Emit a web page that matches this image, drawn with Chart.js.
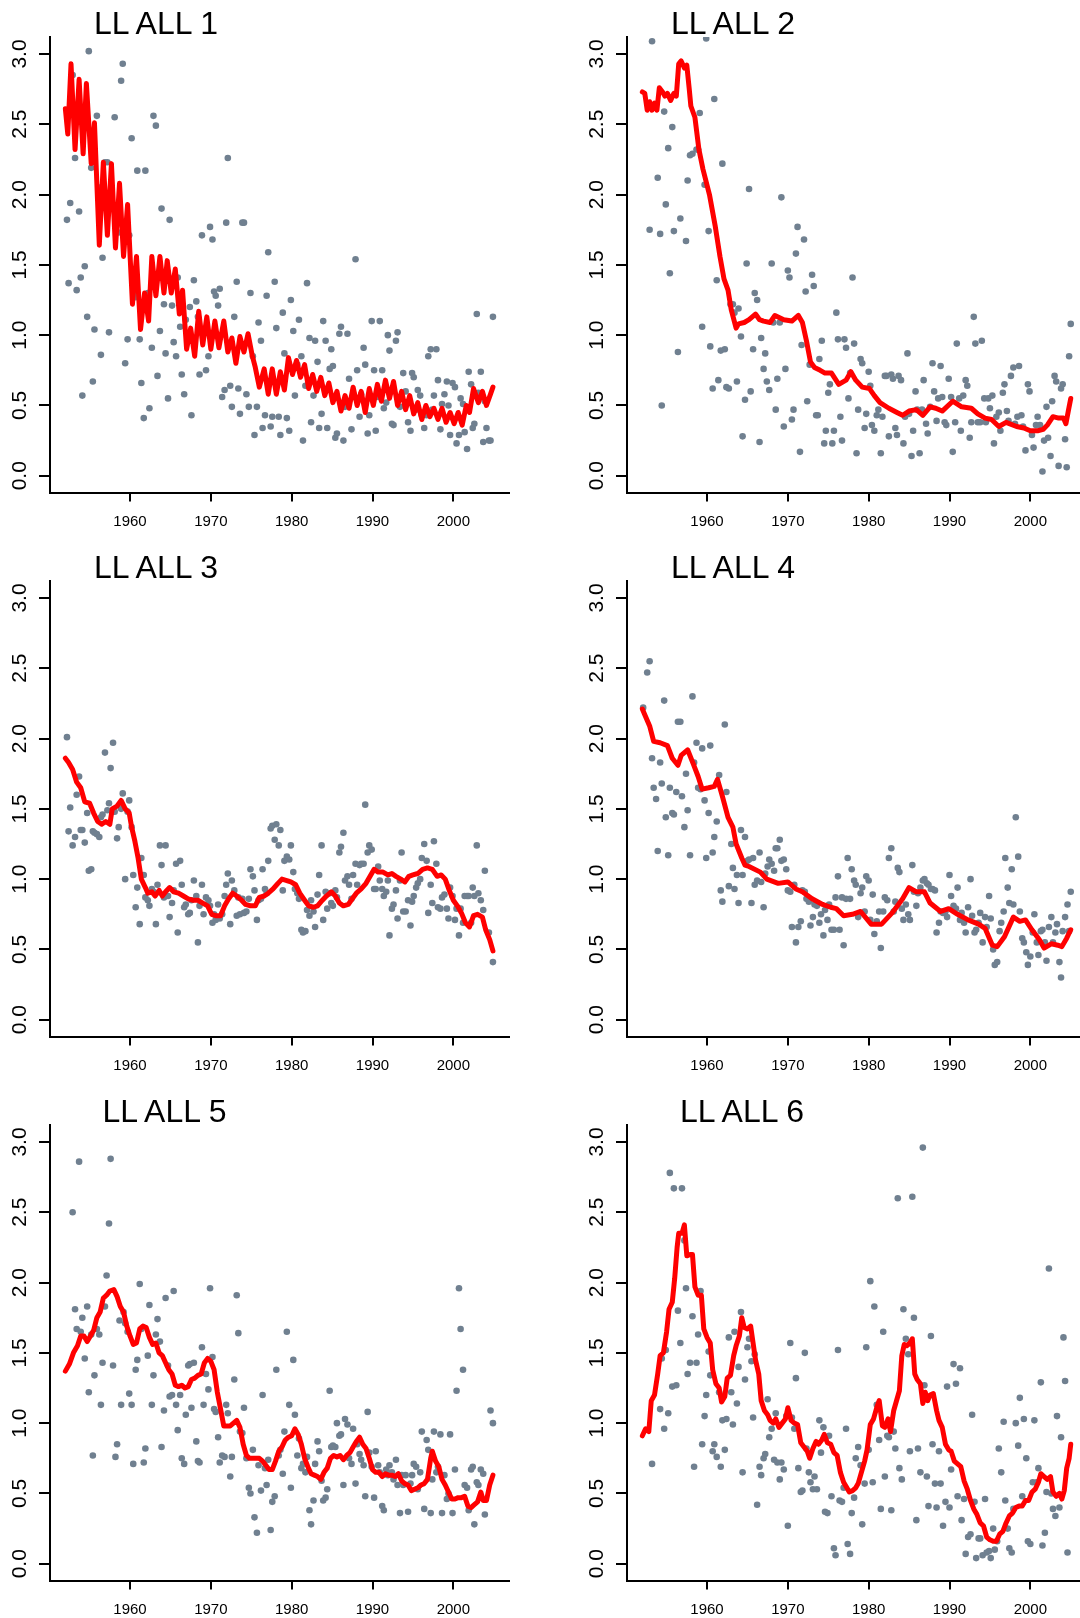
<!DOCTYPE html>
<html>
<head>
<title>LL ALL</title>
<script src="https://cdn.jsdelivr.net/npm/chart.js"></script>
<style>
  html, body { margin: 0; padding: 0; background: #fff; }
  body { width: 1080px; height: 1618px; overflow: hidden; position: relative; font-family: "Liberation Sans", Arial, sans-serif; }
  .panel { position: absolute; width: 540px; height: 545px; }
  .panel canvas { position: absolute; left: 0; top: 0; }
  .title { position: absolute; top: 7px; font-size: 32px; line-height: 32px; color: #000; white-space: nowrap; }
</style>
</head>
<body>
<div id="page"></div>
<script>
// panel titles and axis ticks
const titles = ['LL ALL 1', 'LL ALL 2', 'LL ALL 3', 'LL ALL 4', 'LL ALL 5', 'LL ALL 6'];
const yearTicks = [1960, 1970, 1980, 1990, 2000];
const valueTicks = [0, 0.5, 1, 1.5, 2, 2.5, 3];

// observed points [year, value]
const obs1 = [[1952.2,1.82],[1952.4,1.37],[1952.6,1.94],[1952.9,2.85],[1953.2,2.26],[1953.4,1.32],[1953.7,1.88],[1953.9,1.41],[1954.1,0.57],[1954.4,1.49],[1954.7,1.13],[1954.9,3.02],[1955.2,2.19],[1955.4,0.67],[1955.6,1.04],[1955.9,2.56],[1956.2,2.05],[1956.4,0.86],[1956.6,1.55],[1956.9,2.23],[1957.2,2.23],[1957.4,1.02],[1958.1,2.55],[1958.4,1.88],[1958.6,1.73],[1958.9,2.81],[1959.1,2.93],[1959.4,0.80],[1959.7,0.97],[1959.9,1.71],[1960.2,2.40],[1960.4,1.30],[1960.7,1.27],[1960.9,2.17],[1961.2,0.97],[1961.4,0.66],[1961.7,0.41],[1961.9,2.17],[1962.2,1.30],[1962.4,0.48],[1962.7,0.91],[1962.9,2.56],[1963.2,2.49],[1963.4,0.71],[1963.7,1.03],[1963.9,1.90],[1964.2,1.22],[1964.4,0.87],[1964.7,0.55],[1964.9,1.82],[1965.2,1.21],[1965.4,0.95],[1965.7,0.85],[1965.9,1.41],[1966.2,1.06],[1966.4,0.72],[1966.7,0.58],[1966.9,1.11],[1967.2,1.01],[1967.4,1.20],[1967.6,0.43],[1967.9,1.39],[1968.2,1.24],[1968.4,1.13],[1968.6,0.72],[1968.9,1.71],[1969.1,1.03],[1969.4,0.75],[1969.7,0.85],[1969.9,1.77],[1970.2,1.68],[1970.4,1.31],[1970.6,1.28],[1970.9,1.21],[1971.1,1.33],[1971.4,0.56],[1971.7,0.61],[1971.9,1.80],[1972.1,2.26],[1972.4,0.64],[1972.6,0.49],[1972.9,1.13],[1973.2,1.38],[1973.4,0.62],[1973.6,0.44],[1973.9,1.80],[1974.1,1.80],[1974.4,0.58],[1974.7,0.49],[1974.9,1.30],[1975.2,0.85],[1975.4,0.29],[1975.7,0.49],[1975.9,1.09],[1976.2,0.96],[1976.4,0.34],[1976.7,0.43],[1976.9,1.28],[1977.1,1.59],[1977.4,0.35],[1977.6,0.42],[1977.9,1.38],[1978.1,1.05],[1978.4,0.42],[1978.6,0.29],[1978.9,1.16],[1979.1,0.87],[1979.4,0.41],[1979.7,0.32],[1979.9,1.25],[1980.2,1.03],[1980.4,0.57],[1980.7,0.79],[1980.9,1.11],[1981.2,0.85],[1981.4,0.25],[1981.7,0.64],[1981.9,1.37],[1982.2,0.98],[1982.4,0.38],[1982.7,0.57],[1982.9,0.96],[1983.2,0.81],[1983.4,0.34],[1983.7,0.44],[1983.9,1.10],[1984.2,0.96],[1984.4,0.34],[1984.7,0.76],[1984.9,0.90],[1985.1,0.78],[1985.4,0.27],[1985.6,0.30],[1985.9,1.01],[1986.1,1.06],[1986.4,0.25],[1986.6,0.49],[1986.9,1.01],[1987.1,0.69],[1987.4,0.33],[1987.6,0.56],[1987.9,1.54],[1988.1,0.75],[1988.4,0.42],[1988.6,0.58],[1988.9,0.91],[1989.1,0.79],[1989.4,0.30],[1989.6,0.43],[1989.9,1.10],[1990.2,0.75],[1990.4,0.32],[1990.7,0.56],[1990.9,1.10],[1991.2,0.75],[1991.4,0.48],[1991.7,0.52],[1991.9,1.00],[1992.1,0.89],[1992.4,0.37],[1992.6,0.36],[1992.9,0.96],[1993.1,1.02],[1993.4,0.49],[1993.6,0.55],[1993.8,0.73],[1994.1,0.60],[1994.4,0.38],[1994.7,0.32],[1994.9,0.73],[1995.1,0.70],[1995.4,0.47],[1995.6,0.61],[1995.9,0.57],[1996.1,0.43],[1996.4,0.34],[1996.7,0.43],[1996.9,0.85],[1997.2,0.90],[1997.4,0.47],[1997.6,0.57],[1997.9,0.90],[1998.1,0.68],[1998.4,0.33],[1998.6,0.51],[1998.9,0.58],[1999.2,0.67],[1999.4,0.50],[1999.6,0.29],[1999.9,0.66],[2000.2,0.63],[2000.4,0.23],[2000.7,0.29],[2000.9,0.55],[2001.2,0.51],[2001.4,0.31],[2001.7,0.19],[2001.9,0.74],[2002.2,0.65],[2002.4,0.34],[2002.6,0.37],[2002.9,1.15],[2003.1,0.59],[2003.4,0.74],[2003.7,0.24],[2003.9,0.53],[2004.1,0.34],[2004.4,0.25],[2004.6,0.25],[2004.9,1.13]];

const obs2 = [[1952.9,1.75],[1953.2,3.09],[1953.9,2.12],[1954.2,1.72],[1954.4,0.50],[1954.7,2.59],[1954.9,1.93],[1955.2,2.33],[1955.4,1.44],[1955.7,2.48],[1955.9,1.74],[1956.4,0.88],[1956.7,1.83],[1957.4,1.67],[1957.6,2.10],[1957.9,2.28],[1958.2,2.29],[1958.7,2.32],[1958.9,2.32],[1959.1,2.58],[1959.4,1.06],[1959.7,2.07],[1959.9,3.11],[1960.2,1.74],[1960.4,0.92],[1960.7,0.62],[1960.9,2.68],[1961.2,1.39],[1961.4,0.68],[1961.7,0.89],[1961.9,2.22],[1962.2,0.90],[1962.4,0.63],[1962.7,0.62],[1962.9,1.22],[1963.2,1.22],[1963.4,1.16],[1963.7,0.67],[1963.9,1.19],[1964.2,0.99],[1964.4,0.28],[1964.7,0.54],[1964.9,1.51],[1965.2,2.04],[1965.4,0.60],[1965.7,0.90],[1965.9,1.30],[1966.2,1.25],[1966.5,0.24],[1966.7,0.98],[1967.0,0.76],[1967.2,0.87],[1967.4,0.67],[1967.7,0.61],[1968.0,1.51],[1968.2,1.09],[1968.5,0.47],[1968.7,0.69],[1969.0,1.09],[1969.2,1.98],[1969.5,0.35],[1969.7,0.76],[1970.0,1.46],[1970.2,1.41],[1970.5,0.40],[1970.7,0.47],[1971.0,1.58],[1971.2,1.77],[1971.5,0.17],[1971.7,0.93],[1972.0,1.68],[1972.2,1.31],[1972.4,0.53],[1972.7,0.79],[1973.0,1.43],[1973.2,1.35],[1973.5,0.43],[1973.7,0.43],[1973.9,0.83],[1974.2,0.96],[1974.5,0.23],[1974.7,0.32],[1975.0,0.59],[1975.2,0.65],[1975.5,0.23],[1975.7,0.32],[1976.0,1.16],[1976.2,0.97],[1976.5,0.42],[1976.7,0.25],[1977.0,0.97],[1977.2,0.91],[1977.5,0.55],[1977.7,0.73],[1978.0,1.41],[1978.2,0.94],[1978.5,0.16],[1978.7,0.47],[1979.0,0.83],[1979.2,0.80],[1979.5,0.34],[1979.7,0.44],[1980.0,0.74],[1980.2,0.64],[1980.4,0.36],[1980.7,0.32],[1981.0,0.43],[1981.2,0.47],[1981.5,0.16],[1981.7,0.42],[1982.0,0.71],[1982.2,0.71],[1982.5,0.28],[1982.8,0.72],[1983.0,0.69],[1983.3,0.34],[1983.5,0.29],[1983.7,0.71],[1984.0,0.68],[1984.3,0.23],[1984.5,0.42],[1984.8,0.87],[1985.0,0.44],[1985.3,0.14],[1985.5,0.32],[1985.8,0.60],[1986.0,0.47],[1986.3,0.16],[1986.6,0.47],[1986.8,0.68],[1987.1,0.37],[1987.3,0.30],[1987.6,0.49],[1987.9,0.80],[1988.1,0.60],[1988.4,0.39],[1988.6,0.55],[1988.9,0.78],[1989.1,0.56],[1989.4,0.38],[1989.6,0.36],[1989.9,0.69],[1990.2,0.56],[1990.4,0.17],[1990.7,0.38],[1990.9,0.94],[1991.2,0.55],[1991.4,0.32],[1991.7,0.57],[1992.0,0.68],[1992.2,0.64],[1992.5,0.27],[1992.7,0.38],[1993.0,1.13],[1993.2,0.94],[1993.5,0.38],[1993.8,0.38],[1994.0,0.96],[1994.3,0.55],[1994.5,0.38],[1994.8,0.55],[1995.0,0.48],[1995.3,0.57],[1995.5,0.23],[1995.8,0.42],[1996.1,0.45],[1996.3,0.32],[1996.6,0.59],[1996.8,0.65],[1997.1,0.46],[1997.3,0.39],[1997.6,0.71],[1997.9,0.77],[1998.1,0.37],[1998.4,0.42],[1998.6,0.78],[1998.9,0.43],[1999.1,0.35],[1999.4,0.18],[1999.7,0.65],[1999.9,0.60],[2000.2,0.29],[2000.4,0.20],[2000.7,0.36],[2000.9,0.42],[2001.2,0.36],[2001.5,0.03],[2001.7,0.25],[2002.0,0.49],[2002.2,0.27],[2002.5,0.14],[2002.7,0.53],[2003.0,0.71],[2003.2,0.67],[2003.5,0.07],[2003.8,0.62],[2004.0,0.65],[2004.3,0.26],[2004.5,0.06],[2004.8,0.85],[2005.0,1.08]];

const obs3 = [[1952.2,2.01],[1952.4,1.34],[1952.6,1.51],[1952.9,1.24],[1953.2,1.30],[1953.4,1.60],[1953.7,1.73],[1953.9,1.35],[1954.1,1.35],[1954.4,1.26],[1954.7,1.47],[1954.9,1.06],[1955.2,1.07],[1955.4,1.34],[1955.6,1.33],[1955.9,1.32],[1956.2,1.30],[1956.4,1.44],[1956.6,1.46],[1956.9,1.90],[1957.2,1.49],[1957.4,1.54],[1957.6,1.79],[1957.9,1.97],[1958.1,1.48],[1958.4,1.29],[1958.6,1.37],[1958.9,1.50],[1959.1,1.61],[1959.4,1.00],[1959.7,1.48],[1959.9,1.56],[1960.2,1.37],[1960.4,1.03],[1960.7,0.80],[1960.9,0.94],[1961.2,0.68],[1961.4,1.15],[1961.7,1.03],[1961.9,0.87],[1962.2,0.85],[1962.4,0.81],[1962.7,0.93],[1962.9,0.91],[1963.2,0.68],[1963.4,0.96],[1963.7,1.24],[1963.9,1.10],[1964.2,0.87],[1964.4,1.24],[1964.7,0.88],[1964.9,0.73],[1965.2,0.83],[1965.4,0.92],[1965.7,1.11],[1965.9,0.62],[1966.2,1.13],[1966.4,0.96],[1966.7,0.80],[1966.9,0.82],[1967.2,0.75],[1967.4,0.76],[1967.6,0.85],[1967.9,0.99],[1968.2,0.88],[1968.4,0.55],[1968.6,0.81],[1968.9,0.96],[1969.1,0.75],[1969.4,0.87],[1969.7,0.85],[1969.9,0.81],[1970.2,0.69],[1970.4,0.75],[1970.6,0.71],[1970.9,0.82],[1971.1,0.72],[1971.4,0.75],[1971.7,0.88],[1971.9,0.96],[1972.1,1.04],[1972.4,0.68],[1972.6,0.99],[1972.9,0.92],[1973.2,0.74],[1973.4,0.87],[1973.6,0.75],[1973.9,0.86],[1974.1,0.76],[1974.4,0.77],[1974.7,0.86],[1974.9,1.07],[1975.2,1.02],[1975.4,0.92],[1975.7,0.71],[1975.9,0.85],[1976.2,0.86],[1976.4,1.07],[1976.7,0.93],[1976.9,0.90],[1977.1,1.13],[1977.4,1.36],[1977.6,1.38],[1977.9,1.28],[1978.1,1.39],[1978.4,1.24],[1978.6,1.35],[1978.9,0.92],[1979.1,1.13],[1979.4,1.16],[1979.7,1.14],[1979.9,1.24],[1980.2,1.05],[1980.4,0.93],[1980.7,0.90],[1980.9,0.86],[1981.2,0.64],[1981.4,0.62],[1981.7,0.63],[1981.9,0.78],[1982.2,0.74],[1982.4,0.85],[1982.7,0.77],[1982.9,0.66],[1983.2,0.89],[1983.4,1.03],[1983.7,1.24],[1983.9,0.71],[1984.2,0.91],[1984.4,0.79],[1984.7,0.90],[1984.9,0.83],[1985.1,0.81],[1985.4,0.92],[1985.6,0.87],[1985.9,1.19],[1986.1,1.23],[1986.4,1.33],[1986.6,0.99],[1986.9,1.02],[1987.1,0.96],[1987.4,0.86],[1987.6,1.03],[1987.9,1.11],[1988.1,0.96],[1988.4,1.10],[1988.6,1.11],[1988.9,1.11],[1989.1,1.53],[1989.4,1.19],[1989.6,1.24],[1989.9,1.21],[1990.2,0.93],[1990.4,0.93],[1990.7,1.09],[1990.9,0.99],[1991.2,0.93],[1991.4,0.88],[1991.7,0.91],[1991.9,0.99],[1992.1,0.60],[1992.4,0.79],[1992.6,0.82],[1992.9,0.92],[1993.1,0.72],[1993.4,0.99],[1993.6,1.19],[1993.8,0.77],[1994.1,0.77],[1994.4,0.85],[1994.7,0.67],[1994.9,0.84],[1995.1,0.88],[1995.4,0.94],[1995.6,0.97],[1995.9,1.00],[1996.1,1.15],[1996.4,1.25],[1996.7,1.13],[1996.9,0.76],[1997.2,0.96],[1997.4,0.83],[1997.6,1.27],[1997.9,1.11],[1998.1,0.80],[1998.4,0.79],[1998.6,0.87],[1998.9,0.89],[1999.2,0.79],[1999.4,0.72],[1999.6,0.94],[1999.9,0.88],[2000.2,0.71],[2000.4,0.79],[2000.7,0.60],[2000.9,0.79],[2001.2,0.69],[2001.4,0.88],[2001.7,0.88],[2001.9,0.88],[2002.2,0.69],[2002.4,0.94],[2002.6,0.88],[2002.9,1.24],[2003.1,0.90],[2003.4,0.85],[2003.7,0.78],[2003.9,1.06],[2004.4,0.62],[2004.9,0.41]];

const obs4 = [[1952.1,2.22],[1952.6,2.47],[1952.9,2.55],[1953.2,1.86],[1953.4,1.65],[1953.7,1.57],[1953.9,1.20],[1954.2,1.83],[1954.4,1.68],[1954.7,2.27],[1954.9,1.44],[1955.2,1.17],[1955.4,1.65],[1955.7,1.47],[1955.9,1.46],[1956.2,1.62],[1956.4,2.12],[1956.7,2.12],[1956.9,1.59],[1957.2,1.37],[1957.4,1.75],[1957.6,1.49],[1957.9,1.17],[1958.2,2.30],[1958.4,1.83],[1958.7,1.97],[1958.9,1.65],[1959.2,1.64],[1959.4,1.93],[1959.7,1.56],[1959.9,1.15],[1960.2,1.47],[1960.4,1.95],[1960.7,1.19],[1960.9,1.30],[1961.2,1.41],[1961.5,1.74],[1961.7,0.92],[1961.9,0.84],[1962.2,2.10],[1962.4,1.62],[1962.7,0.95],[1963.0,1.25],[1963.2,1.08],[1963.4,0.93],[1963.7,1.03],[1963.9,0.83],[1964.2,1.35],[1964.4,1.03],[1964.7,1.30],[1965.0,1.13],[1965.2,1.14],[1965.5,0.83],[1965.7,1.15],[1965.9,0.96],[1966.2,0.99],[1966.5,1.19],[1966.7,0.98],[1967.0,0.80],[1967.2,1.04],[1967.5,1.09],[1967.7,1.14],[1968.0,1.11],[1968.3,1.06],[1968.5,1.22],[1968.7,1.22],[1969.0,1.28],[1969.2,1.13],[1969.5,1.14],[1969.8,1.07],[1970.0,0.92],[1970.3,0.91],[1970.5,0.66],[1970.8,0.96],[1971.0,0.55],[1971.3,0.66],[1971.6,0.70],[1971.8,0.92],[1972.1,0.91],[1972.3,0.86],[1972.6,0.84],[1972.8,0.67],[1973.1,0.73],[1973.3,0.82],[1973.6,0.81],[1973.9,0.69],[1974.1,0.75],[1974.4,0.60],[1974.6,0.78],[1974.9,0.71],[1975.1,0.82],[1975.4,0.64],[1975.7,0.64],[1975.9,0.87],[1976.2,1.02],[1976.4,0.64],[1976.7,0.87],[1976.9,0.53],[1977.2,0.86],[1977.4,1.15],[1977.7,0.86],[1977.9,1.07],[1978.2,0.99],[1978.4,0.96],[1978.7,0.73],[1979.0,0.90],[1979.2,0.94],[1979.5,0.77],[1979.7,1.02],[1980.0,0.99],[1980.2,0.71],[1980.5,0.89],[1980.7,0.61],[1981.0,0.70],[1981.3,0.77],[1981.5,0.51],[1981.8,0.77],[1982.0,0.87],[1982.3,0.85],[1982.5,1.15],[1982.8,1.22],[1983.1,0.77],[1983.3,0.84],[1983.6,1.08],[1983.8,1.05],[1984.1,0.79],[1984.3,0.71],[1984.6,0.82],[1984.9,0.75],[1985.1,0.71],[1985.4,1.10],[1985.6,0.91],[1985.9,0.81],[1986.1,0.90],[1986.4,0.94],[1986.7,0.99],[1986.9,1.00],[1987.2,0.97],[1987.4,0.96],[1987.7,0.93],[1987.9,0.93],[1988.2,0.92],[1988.4,0.62],[1988.7,0.69],[1988.9,0.77],[1989.2,0.76],[1989.5,0.77],[1989.7,0.73],[1990.0,1.03],[1990.2,0.88],[1990.5,0.81],[1990.8,0.79],[1991.0,0.94],[1991.3,0.71],[1991.5,0.76],[1991.8,0.69],[1992.0,0.62],[1992.3,0.80],[1992.6,1.00],[1992.8,0.74],[1993.1,0.62],[1993.3,0.64],[1993.6,0.69],[1993.8,0.76],[1994.1,0.55],[1994.4,0.73],[1994.6,0.66],[1994.9,0.88],[1995.1,0.72],[1995.4,0.50],[1995.6,0.39],[1995.9,0.41],[1996.2,0.63],[1996.4,0.69],[1996.7,0.77],[1996.9,1.15],[1997.2,0.94],[1997.4,0.83],[1997.7,1.07],[1997.9,0.82],[1998.2,1.44],[1998.5,1.16],[1998.7,0.77],[1999.0,0.58],[1999.2,0.55],[1999.5,0.48],[1999.7,0.39],[2000.0,0.45],[2000.3,0.62],[2000.5,0.75],[2000.8,0.55],[2001.0,0.46],[2001.3,0.63],[2001.5,0.64],[2001.8,0.55],[2002.0,0.42],[2002.3,0.66],[2002.6,0.73],[2002.8,0.55],[2003.1,0.62],[2003.3,0.68],[2003.6,0.41],[2003.8,0.30],[2004.0,0.63],[2004.3,0.73],[2004.6,0.82],[2004.8,0.63],[2005.0,0.91]];

const obs5 = [[1952.9,2.50],[1953.2,1.81],[1953.4,1.67],[1953.7,2.86],[1953.9,1.65],[1954.1,1.75],[1954.4,1.46],[1954.7,1.83],[1954.9,1.22],[1955.2,1.63],[1955.4,0.77],[1955.6,1.34],[1955.9,1.67],[1956.2,1.63],[1956.4,1.13],[1956.6,1.43],[1956.9,1.83],[1957.1,2.05],[1957.4,2.42],[1957.6,2.88],[1957.9,1.41],[1958.2,0.76],[1958.4,0.85],[1958.7,1.73],[1958.9,1.13],[1959.2,1.79],[1959.4,1.71],[1959.7,1.65],[1959.9,1.21],[1960.2,1.13],[1960.4,0.71],[1960.7,1.38],[1960.9,1.45],[1961.2,1.99],[1961.4,1.67],[1961.7,0.72],[1961.9,0.82],[1962.2,1.48],[1962.4,1.84],[1962.7,1.13],[1962.9,1.34],[1963.2,1.63],[1963.4,1.74],[1963.7,1.58],[1963.9,0.83],[1964.2,1.09],[1964.4,1.89],[1964.7,1.41],[1964.9,1.19],[1965.2,1.20],[1965.4,1.94],[1965.7,1.13],[1965.9,0.95],[1966.2,1.20],[1966.4,0.75],[1966.7,0.71],[1966.9,1.06],[1967.2,1.41],[1967.4,1.42],[1967.6,1.11],[1967.9,1.43],[1968.2,0.87],[1968.4,0.73],[1968.6,0.72],[1968.9,1.54],[1969.1,1.13],[1969.4,1.35],[1969.7,1.24],[1969.9,1.96],[1970.2,1.47],[1970.4,1.10],[1970.6,1.08],[1970.9,0.90],[1971.1,0.72],[1971.4,0.77],[1971.7,0.76],[1971.9,1.13],[1972.1,1.07],[1972.4,0.62],[1972.6,0.76],[1972.9,1.31],[1973.2,1.91],[1973.4,1.64],[1973.6,0.94],[1973.9,0.93],[1974.1,1.11],[1974.4,0.75],[1974.7,0.54],[1974.9,0.50],[1975.2,0.81],[1975.4,0.33],[1975.7,0.22],[1975.9,0.70],[1976.2,0.52],[1976.4,1.20],[1976.7,0.68],[1976.9,0.56],[1977.1,0.74],[1977.4,0.24],[1977.6,0.44],[1977.9,0.48],[1978.1,1.38],[1978.4,0.77],[1978.6,0.81],[1978.9,0.64],[1979.1,0.94],[1979.4,1.65],[1979.7,1.13],[1979.9,0.54],[1980.2,1.45],[1980.4,1.06],[1980.7,0.77],[1980.9,0.89],[1981.2,0.68],[1981.4,0.71],[1981.7,0.65],[1981.9,0.76],[1982.2,0.38],[1982.4,0.28],[1982.7,0.45],[1982.9,0.71],[1983.2,0.87],[1983.4,0.80],[1983.7,0.59],[1983.9,0.45],[1984.2,0.47],[1984.4,0.53],[1984.7,1.23],[1984.9,0.83],[1985.1,0.84],[1985.4,0.83],[1985.6,1.00],[1985.9,0.91],[1986.1,0.92],[1986.4,0.56],[1986.6,1.03],[1986.9,0.99],[1987.1,0.75],[1987.4,0.71],[1987.6,0.96],[1987.9,0.57],[1988.1,0.85],[1988.4,0.78],[1988.6,0.74],[1988.9,0.70],[1989.1,0.48],[1989.4,1.08],[1989.6,0.79],[1989.9,0.69],[1990.2,0.47],[1990.4,0.80],[1990.7,0.70],[1990.9,0.65],[1991.2,0.41],[1991.4,0.38],[1991.7,0.67],[1991.9,0.63],[1992.1,0.70],[1992.4,0.65],[1992.6,0.60],[1992.9,0.74],[1993.1,0.56],[1993.4,0.36],[1993.6,0.63],[1993.8,0.56],[1994.1,0.63],[1994.4,0.37],[1994.7,0.57],[1994.9,0.63],[1995.1,0.71],[1995.4,0.69],[1995.6,0.53],[1995.9,0.65],[1996.1,0.94],[1996.4,0.39],[1996.7,0.88],[1996.9,0.81],[1997.2,0.36],[1997.4,0.60],[1997.6,0.94],[1997.9,0.65],[1998.1,0.69],[1998.4,0.92],[1998.6,0.36],[1998.9,0.63],[1999.2,0.46],[1999.4,0.50],[1999.6,0.92],[1999.9,0.36],[2000.2,0.67],[2000.4,1.23],[2000.7,1.96],[2000.9,1.67],[2001.2,1.38],[2001.4,0.56],[2001.7,0.54],[2001.9,0.38],[2002.2,0.67],[2002.4,0.69],[2002.6,0.28],[2002.9,0.58],[2003.1,0.56],[2003.4,0.67],[2003.7,0.64],[2003.9,0.35],[2004.6,1.09],[2004.9,1.00]];

const obs6 = [[1953.2,0.71],[1954.2,1.10],[1954.4,1.46],[1954.7,0.96],[1954.9,1.52],[1955.2,1.07],[1955.4,2.78],[1955.7,1.26],[1955.9,2.67],[1956.2,1.27],[1956.4,1.80],[1956.7,1.57],[1956.9,2.67],[1957.2,2.30],[1957.4,1.96],[1957.6,1.35],[1957.9,1.43],[1958.2,1.76],[1958.4,0.69],[1958.7,1.43],[1958.9,1.63],[1959.2,1.94],[1959.4,0.85],[1959.7,1.05],[1959.9,1.20],[1960.2,1.51],[1960.4,1.34],[1960.7,0.80],[1960.9,0.85],[1961.2,0.76],[1961.5,1.22],[1961.7,0.69],[1961.9,1.02],[1962.2,0.81],[1962.4,1.03],[1962.7,1.61],[1963.0,1.22],[1963.2,0.99],[1963.4,1.65],[1963.7,1.14],[1963.9,1.40],[1964.2,1.79],[1964.4,0.65],[1964.7,1.31],[1965.0,1.54],[1965.2,1.60],[1965.5,1.44],[1965.7,1.04],[1965.9,1.49],[1966.2,0.42],[1966.5,0.69],[1966.7,0.63],[1967.0,0.75],[1967.2,0.78],[1967.5,1.17],[1967.7,0.90],[1968.0,0.96],[1968.3,0.74],[1968.5,1.07],[1968.7,0.72],[1969.0,0.60],[1969.2,0.72],[1969.5,0.67],[1969.8,1.05],[1970.0,0.27],[1970.3,1.57],[1970.5,1.04],[1970.8,0.96],[1971.0,1.32],[1971.3,0.68],[1971.6,0.51],[1971.8,0.52],[1972.1,1.50],[1972.3,0.82],[1972.6,0.65],[1972.8,0.58],[1973.1,0.53],[1973.3,0.62],[1973.6,0.53],[1973.9,1.02],[1974.1,0.79],[1974.4,0.97],[1974.6,0.37],[1974.9,0.36],[1975.1,0.91],[1975.4,0.48],[1975.7,0.11],[1975.9,0.06],[1976.2,1.52],[1976.4,0.45],[1976.7,0.44],[1976.9,0.54],[1977.2,0.96],[1977.4,0.14],[1977.7,0.07],[1977.9,0.36],[1978.2,0.47],[1978.4,0.75],[1978.7,0.83],[1979.0,0.70],[1979.2,0.28],[1979.5,0.57],[1979.7,1.54],[1980.0,0.81],[1980.2,2.01],[1980.5,0.58],[1980.7,1.83],[1981.0,1.13],[1981.3,0.88],[1981.5,0.39],[1981.8,1.65],[1982.0,0.62],[1982.3,0.91],[1982.5,0.90],[1982.8,0.38],[1983.1,0.94],[1983.3,0.82],[1983.6,2.60],[1983.8,0.68],[1984.1,0.60],[1984.3,1.81],[1984.6,1.60],[1984.9,1.49],[1985.1,0.80],[1985.4,2.61],[1985.6,1.75],[1985.9,0.31],[1986.1,0.82],[1986.4,0.65],[1986.7,2.96],[1986.9,1.27],[1987.2,0.62],[1987.4,0.41],[1987.7,1.62],[1987.9,0.85],[1988.2,0.57],[1988.4,0.40],[1988.7,0.80],[1988.9,0.57],[1989.2,0.27],[1989.5,0.44],[1989.7,1.26],[1990.0,0.40],[1990.2,0.67],[1990.5,1.42],[1990.8,1.28],[1991.0,0.48],[1991.3,1.39],[1991.5,0.31],[1991.8,0.46],[1992.0,0.07],[1992.3,0.19],[1992.6,0.21],[1992.8,1.06],[1993.1,0.44],[1993.3,0.04],[1993.6,0.18],[1993.8,0.18],[1994.1,0.06],[1994.4,0.46],[1994.6,0.08],[1994.9,0.09],[1995.1,0.04],[1995.4,0.25],[1995.6,0.10],[1995.9,0.16],[1996.1,0.82],[1996.4,0.65],[1996.7,1.01],[1996.9,0.45],[1997.2,0.25],[1997.4,0.11],[1997.7,0.08],[1997.9,0.39],[1998.2,1.00],[1998.5,0.84],[1998.7,1.18],[1999.0,0.48],[1999.2,1.03],[1999.5,0.75],[1999.7,0.16],[2000.0,0.14],[2000.3,0.58],[2000.5,1.02],[2000.8,0.58],[2001.0,0.68],[2001.3,1.29],[2001.5,0.13],[2001.8,0.22],[2002.0,0.51],[2002.3,2.10],[2002.6,0.50],[2002.8,0.39],[2003.1,0.34],[2003.3,1.05],[2003.6,0.40],[2003.8,0.90],[2004.1,1.61],[2004.3,1.30],[2004.6,0.08]];

// fitted (red) lines [year, value]
const fit1 = [[1952.0,2.61],[1952.3,2.43],[1952.7,2.93],[1953.2,2.32],[1953.7,2.82],[1954.2,2.29],[1954.6,2.79],[1955.2,2.22],[1955.6,2.51],[1956.2,1.64],[1956.7,2.23],[1957.2,1.71],[1957.7,2.22],[1958.2,1.62],[1958.7,2.08],[1959.2,1.56],[1959.7,1.93],[1960.3,1.22],[1960.8,1.56],[1961.3,1.04],[1961.8,1.30],[1962.3,1.10],[1962.7,1.56],[1963.2,1.28],[1963.7,1.56],[1964.2,1.30],[1964.6,1.53],[1965.1,1.30],[1965.6,1.47],[1966.1,1.15],[1966.5,1.32],[1967.0,0.90],[1967.5,1.05],[1968.0,0.85],[1968.5,1.17],[1969.0,0.93],[1969.5,1.13],[1970.0,0.90],[1970.5,1.10],[1971.0,0.91],[1971.6,1.10],[1972.1,0.88],[1972.6,0.98],[1973.1,0.80],[1973.6,0.99],[1974.1,0.88],[1974.6,1.01],[1975.1,0.86],[1975.5,0.77],[1976.0,0.63],[1976.6,0.76],[1977.1,0.58],[1977.6,0.76],[1978.1,0.58],[1978.6,0.74],[1979.1,0.61],[1979.6,0.84],[1980.1,0.72],[1980.6,0.82],[1981.1,0.70],[1981.6,0.79],[1982.1,0.62],[1982.6,0.72],[1983.1,0.60],[1983.6,0.70],[1984.1,0.57],[1984.6,0.66],[1985.1,0.52],[1985.6,0.60],[1986.1,0.46],[1986.6,0.57],[1987.1,0.48],[1987.6,0.63],[1988.1,0.50],[1988.6,0.60],[1989.1,0.45],[1989.6,0.62],[1990.1,0.50],[1990.6,0.65],[1991.1,0.53],[1991.6,0.68],[1992.1,0.55],[1992.6,0.67],[1993.1,0.50],[1993.6,0.60],[1994.1,0.47],[1994.6,0.57],[1995.1,0.44],[1995.6,0.52],[1996.1,0.40],[1996.6,0.50],[1997.1,0.42],[1997.6,0.48],[1998.1,0.40],[1998.6,0.48],[1999.1,0.38],[1999.6,0.45],[2000.1,0.37],[2000.6,0.45],[2001.1,0.36],[2001.6,0.50],[2002.0,0.45],[2002.5,0.62],[2003.1,0.52],[2003.6,0.60],[2004.1,0.50],[2004.6,0.58],[2004.9,0.63]];

const fit2 = [[1952.0,2.73],[1952.3,2.72],[1952.6,2.60],[1952.9,2.66],[1953.2,2.60],[1953.5,2.65],[1953.8,2.60],[1954.1,2.76],[1954.5,2.73],[1954.8,2.70],[1955.1,2.72],[1955.5,2.67],[1955.9,2.72],[1956.2,2.70],[1956.5,2.93],[1956.8,2.95],[1957.2,2.90],[1957.5,2.92],[1957.8,2.75],[1958.0,2.63],[1958.5,2.55],[1959.0,2.32],[1959.5,2.18],[1960.3,2.00],[1961.0,1.78],[1961.6,1.56],[1962.1,1.40],[1962.6,1.32],[1963.0,1.18],[1963.6,1.05],[1963.9,1.08],[1964.6,1.09],[1965.2,1.11],[1966.0,1.15],[1966.5,1.11],[1967.0,1.10],[1967.8,1.09],[1968.4,1.14],[1969.5,1.11],[1970.5,1.10],[1971.3,1.14],[1971.8,1.09],[1972.3,0.96],[1972.8,0.81],[1973.3,0.77],[1974.0,0.75],[1974.6,0.73],[1975.4,0.73],[1976.3,0.65],[1977.2,0.68],[1977.8,0.74],[1978.4,0.68],[1979.2,0.63],[1980.1,0.62],[1980.7,0.57],[1981.4,0.52],[1982.5,0.48],[1983.5,0.45],[1984.2,0.43],[1985.0,0.46],[1985.9,0.47],[1986.7,0.43],[1987.6,0.49],[1988.3,0.48],[1989.1,0.46],[1990.4,0.53],[1991.5,0.49],[1992.7,0.48],[1993.5,0.44],[1994.4,0.41],[1995.2,0.40],[1996.1,0.35],[1997.0,0.38],[1998.3,0.35],[1999.2,0.34],[2000.0,0.32],[2000.9,0.32],[2001.6,0.33],[2002.1,0.36],[2002.8,0.42],[2003.5,0.41],[2004.1,0.41],[2004.4,0.37],[2004.7,0.46],[2005.0,0.55]];

const fit3 = [[1952.0,1.86],[1952.4,1.83],[1952.9,1.78],[1953.4,1.69],[1953.9,1.65],[1954.4,1.55],[1955.0,1.54],[1955.5,1.47],[1956.0,1.41],[1956.5,1.39],[1957.0,1.41],[1957.5,1.39],[1957.8,1.50],[1958.4,1.52],[1958.9,1.56],[1959.4,1.50],[1959.9,1.47],[1960.2,1.37],[1960.6,1.27],[1961.0,1.15],[1961.4,1.00],[1961.9,0.94],[1962.2,0.90],[1962.7,0.91],[1963.1,0.88],[1963.6,0.92],[1964.0,0.88],[1964.4,0.91],[1964.9,0.94],[1965.4,0.91],[1966.0,0.90],[1966.6,0.88],[1967.2,0.86],[1967.8,0.85],[1968.4,0.85],[1969.0,0.83],[1969.6,0.81],[1970.1,0.75],[1970.6,0.74],[1971.2,0.74],[1971.7,0.81],[1972.2,0.86],[1972.7,0.90],[1973.2,0.88],[1973.8,0.85],[1974.3,0.82],[1974.9,0.81],[1975.5,0.81],[1976.0,0.87],[1976.6,0.88],[1977.1,0.90],[1977.7,0.93],[1978.3,0.97],[1978.8,1.00],[1979.4,0.99],[1979.9,0.98],[1980.5,0.96],[1981.0,0.90],[1981.6,0.85],[1982.1,0.81],[1982.7,0.80],[1983.2,0.81],[1983.8,0.85],[1984.3,0.88],[1984.9,0.91],[1985.4,0.88],[1985.9,0.83],[1986.4,0.81],[1987.0,0.82],[1987.5,0.86],[1988.0,0.90],[1988.6,0.93],[1989.2,0.97],[1989.7,1.02],[1990.2,1.07],[1990.7,1.05],[1991.3,1.05],[1991.9,1.03],[1992.4,1.04],[1992.9,1.02],[1993.5,1.00],[1994.0,0.98],[1994.5,1.02],[1995.0,1.03],[1995.6,1.04],[1996.2,1.07],[1996.8,1.08],[1997.4,1.07],[1998.0,1.02],[1998.5,1.03],[1999.0,1.00],[1999.5,0.92],[2000.0,0.85],[2000.5,0.81],[2001.0,0.76],[2001.5,0.69],[2002.0,0.66],[2002.5,0.74],[2003.0,0.75],[2003.6,0.73],[2004.0,0.64],[2004.5,0.57],[2004.9,0.49]];

const fit4 = [[1952.0,2.21],[1952.3,2.17],[1952.9,2.09],[1953.4,1.98],[1954.2,1.97],[1955.1,1.95],[1955.7,1.86],[1956.4,1.81],[1956.8,1.88],[1957.6,1.92],[1958.3,1.82],[1958.9,1.73],[1959.4,1.64],[1960.2,1.65],[1960.9,1.66],[1961.3,1.71],[1961.9,1.59],[1962.6,1.44],[1963.2,1.37],[1963.6,1.25],[1964.3,1.15],[1964.7,1.10],[1965.2,1.09],[1966.6,1.05],[1967.4,1.00],[1968.8,0.97],[1970.0,0.98],[1971.0,0.93],[1971.8,0.91],[1973.0,0.86],[1974.3,0.82],[1975.3,0.80],[1976.0,0.79],[1976.9,0.74],[1978.0,0.75],[1979.0,0.77],[1980.3,0.68],[1981.6,0.68],[1982.9,0.76],[1984.2,0.86],[1985.0,0.94],[1985.9,0.91],[1986.9,0.91],[1987.6,0.83],[1988.9,0.77],[1989.9,0.79],[1991.0,0.75],[1992.3,0.71],[1993.6,0.68],[1994.4,0.65],[1995.3,0.53],[1995.9,0.52],[1996.8,0.59],[1997.9,0.73],[1998.7,0.70],[1999.4,0.71],[2000.2,0.64],[2001.1,0.57],[2001.7,0.51],[2002.6,0.54],[2003.4,0.53],[2003.9,0.52],[2004.5,0.58],[2005.0,0.64]];

const fit5 = [[1952.0,1.37],[1952.5,1.42],[1953.0,1.50],[1953.5,1.55],[1953.9,1.62],[1954.3,1.62],[1954.7,1.58],[1955.1,1.62],[1955.5,1.66],[1955.9,1.75],[1956.3,1.79],[1956.7,1.89],[1957.1,1.91],[1957.5,1.94],[1958.0,1.95],[1958.4,1.90],[1958.8,1.83],[1959.2,1.79],[1959.6,1.69],[1960.0,1.62],[1960.4,1.56],[1960.8,1.57],[1961.2,1.67],[1961.6,1.69],[1962.0,1.68],[1962.4,1.61],[1962.8,1.56],[1963.2,1.57],[1963.6,1.50],[1964.0,1.48],[1964.4,1.43],[1964.8,1.38],[1965.2,1.35],[1965.6,1.27],[1966.0,1.26],[1966.4,1.27],[1966.8,1.25],[1967.2,1.26],[1967.6,1.31],[1968.0,1.32],[1968.4,1.34],[1968.8,1.35],[1969.2,1.43],[1969.6,1.46],[1970.0,1.44],[1970.4,1.38],[1970.8,1.22],[1971.2,1.10],[1971.6,0.98],[1972.0,0.98],[1972.4,0.98],[1972.8,1.00],[1973.2,1.02],[1973.6,0.97],[1974.0,0.85],[1974.4,0.77],[1974.8,0.75],[1975.2,0.75],[1975.6,0.75],[1976.0,0.75],[1976.4,0.73],[1976.8,0.70],[1977.2,0.67],[1977.6,0.67],[1978.0,0.73],[1978.4,0.80],[1978.8,0.83],[1979.2,0.88],[1979.6,0.90],[1980.0,0.91],[1980.4,0.96],[1980.8,0.92],[1981.2,0.85],[1981.6,0.75],[1982.0,0.69],[1982.4,0.64],[1982.8,0.63],[1983.2,0.62],[1983.6,0.60],[1984.0,0.65],[1984.4,0.68],[1984.8,0.75],[1985.2,0.77],[1985.6,0.76],[1986.0,0.77],[1986.4,0.74],[1986.8,0.77],[1987.2,0.79],[1987.6,0.83],[1988.0,0.87],[1988.4,0.90],[1988.8,0.85],[1989.2,0.82],[1989.6,0.75],[1990.0,0.67],[1990.4,0.65],[1990.8,0.65],[1991.2,0.62],[1991.6,0.64],[1992.0,0.63],[1992.4,0.63],[1992.8,0.62],[1993.2,0.64],[1993.6,0.59],[1994.0,0.57],[1994.4,0.56],[1994.8,0.52],[1995.2,0.53],[1995.6,0.54],[1996.0,0.56],[1996.4,0.57],[1996.8,0.60],[1997.2,0.75],[1997.4,0.80],[1997.8,0.73],[1998.2,0.69],[1998.6,0.60],[1999.0,0.56],[1999.4,0.51],[1999.8,0.46],[2000.2,0.46],[2000.6,0.47],[2001.0,0.47],[2001.4,0.48],[2001.8,0.41],[2002.2,0.40],[2002.6,0.42],[2003.0,0.44],[2003.4,0.51],[2003.7,0.45],[2004.1,0.45],[2004.5,0.56],[2004.9,0.63]];

const fit6 = [[1952.0,0.91],[1952.4,0.96],[1952.8,0.94],[1953.1,1.16],[1953.5,1.20],[1953.9,1.35],[1954.2,1.48],[1954.6,1.50],[1955.0,1.65],[1955.3,1.81],[1955.7,1.86],[1956.0,2.03],[1956.3,2.25],[1956.5,2.35],[1956.9,2.35],[1957.2,2.41],[1957.5,2.19],[1957.9,2.20],[1958.2,2.20],[1958.5,1.97],[1958.9,1.91],[1959.3,1.91],[1959.6,1.67],[1960.0,1.61],[1960.4,1.57],[1960.7,1.38],[1961.1,1.28],[1961.5,1.25],[1961.8,1.15],[1962.2,1.19],[1962.5,1.32],[1962.9,1.34],[1963.3,1.48],[1963.6,1.55],[1964.0,1.62],[1964.3,1.75],[1964.6,1.68],[1965.0,1.67],[1965.4,1.69],[1965.7,1.57],[1966.0,1.45],[1966.4,1.35],[1966.7,1.16],[1967.1,1.09],[1967.5,1.06],[1967.8,1.02],[1968.2,1.00],[1968.5,1.03],[1968.9,0.97],[1969.3,1.00],[1969.7,1.03],[1970.0,1.11],[1970.4,1.02],[1970.8,1.00],[1971.2,0.99],[1971.6,0.86],[1972.0,0.83],[1972.4,0.80],[1972.7,0.75],[1973.1,0.82],[1973.5,0.87],[1973.8,0.85],[1974.2,0.88],[1974.5,0.92],[1974.9,0.86],[1975.3,0.85],[1975.7,0.79],[1976.1,0.77],[1976.5,0.65],[1976.9,0.58],[1977.3,0.54],[1977.6,0.51],[1978.0,0.52],[1978.4,0.54],[1978.7,0.57],[1979.1,0.65],[1979.5,0.73],[1979.8,0.81],[1980.2,0.99],[1980.6,1.03],[1981.0,1.11],[1981.3,1.16],[1981.7,0.98],[1982.0,0.97],[1982.4,1.03],[1982.7,0.94],[1983.1,1.09],[1983.4,1.15],[1983.8,1.23],[1984.1,1.48],[1984.4,1.56],[1984.7,1.55],[1985.1,1.57],[1985.4,1.60],[1985.7,1.35],[1986.0,1.31],[1986.4,1.28],[1986.7,1.14],[1987.0,1.22],[1987.3,1.16],[1987.6,1.20],[1988.0,1.21],[1988.4,1.09],[1988.7,1.02],[1989.1,0.97],[1989.5,0.85],[1989.9,0.81],[1990.2,0.80],[1990.6,0.73],[1991.0,0.71],[1991.4,0.69],[1991.8,0.59],[1992.2,0.53],[1992.6,0.45],[1993.0,0.39],[1993.4,0.35],[1993.8,0.29],[1994.2,0.27],[1994.6,0.19],[1995.0,0.17],[1995.4,0.16],[1995.8,0.16],[1996.2,0.21],[1996.6,0.23],[1997.0,0.29],[1997.4,0.34],[1997.8,0.36],[1998.2,0.40],[1998.6,0.41],[1999.0,0.41],[1999.4,0.45],[1999.8,0.45],[2000.2,0.51],[2000.6,0.53],[2001.0,0.58],[2001.3,0.64],[2001.7,0.62],[2002.1,0.60],[2002.5,0.62],[2002.8,0.51],[2003.2,0.48],[2003.6,0.50],[2003.9,0.46],[2004.2,0.52],[2004.5,0.68],[2004.8,0.75],[2005.0,0.85]];

const panelObs = [obs1, obs2, obs3, obs4, obs5, obs6];
const panelFit = [fit1, fit2, fit3, fit4, fit5, fit6];

// page layout
const colLeft = [0, 577];
const rowTop = [0, 544, 1088];
const titleLeft = [94, 94, 94, 94, 102.5, 103];
const fontFamily = '"Liberation Sans", Arial, Helvetica, sans-serif';

const page = document.getElementById('page');

function axisStyle(tickLen) {
    return {
        grid: { drawOnChartArea: false, drawTicks: true, tickLength: tickLen, color: '#000', lineWidth: 2 },
        border: { display: true, color: '#000', width: 2 }
    };
}

function makePanel(i) {
    const div = document.createElement('div');
    div.className = 'panel';
    div.style.left = colLeft[i % 2] + 'px';
    div.style.top = rowTop[Math.floor(i / 2)] + 'px';
    const canvas = document.createElement('canvas');
    canvas.width = 540;
    canvas.height = 545;
    div.appendChild(canvas);
    const title = document.createElement('div');
    title.className = 'title';
    title.style.left = titleLeft[i] + 'px';
    title.textContent = titles[i];
    div.appendChild(title);
    page.appendChild(div);

    new Chart(canvas, {
        type: 'scatter',
        data: {
            datasets: [
                {
                    data: panelFit[i].map(p => ({ x: p[0], y: p[1] })),
                    showLine: true,
                    borderColor: '#ff0000',
                    borderWidth: 5,
                    borderJoinStyle: 'round',
                    borderCapStyle: 'round',
                    pointRadius: 0,
                    tension: 0
                },
                {
                    data: panelObs[i].map(p => ({ x: p[0], y: p[1] })),
                    backgroundColor: '#708090',
                    borderWidth: 0,
                    pointRadius: 3.3
                }
            ]
        },
        options: {
            responsive: false,
            animation: false,
            events: [],
            layout: { padding: { left: 0, top: 37.1, right: 30.9, bottom: 0 } },
            plugins: { legend: { display: false }, tooltip: { enabled: false } },
            scales: {
                x: Object.assign({
                    type: 'linear',
                    min: 1950.1,
                    max: 2006.9,
                    afterBuildTicks: s => { s.ticks = yearTicks.map(v => ({ value: v })); },
                    afterFit: s => { s.height = 52.4; },
                    ticks: {
                        color: '#000',
                        font: { size: 15, family: fontFamily },
                        padding: 11,
                        autoSkip: false,
                        maxRotation: 0,
                        callback: v => String(v)
                    }
                }, axisStyle(9)),
                y: Object.assign({
                    type: 'linear',
                    min: -0.12,
                    max: 3.12,
                    afterBuildTicks: s => { s.ticks = valueTicks.map(v => ({ value: v })); },
                    afterFit: s => { s.width = 50; },
                    ticks: {
                        color: '#000',
                        font: { size: 21, family: fontFamily },
                        padding: 4,
                        autoSkip: false,
                        minRotation: 90,
                        maxRotation: 90,
                        crossAlign: 'center',
                        callback: v => v.toFixed(1)
                    }
                }, axisStyle(11))
            }
        }
    });
}

for (let i = 0; i < 6; i++) makePanel(i);
</script>
</body>
</html>
